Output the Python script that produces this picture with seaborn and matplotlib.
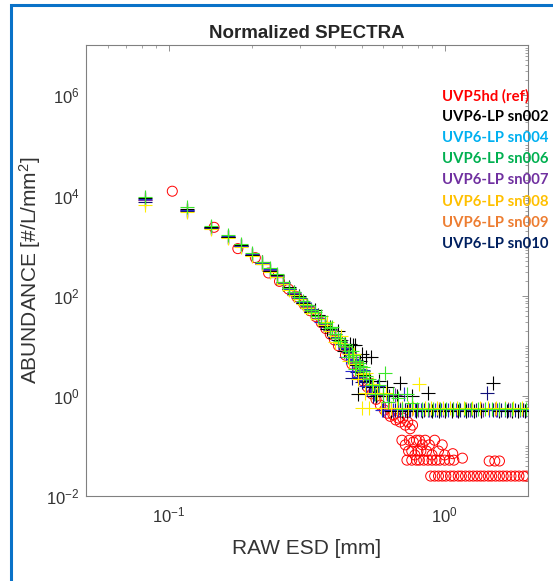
import matplotlib
matplotlib.use("Agg")
import matplotlib.pyplot as plt
import matplotlib.patches as patches
from matplotlib.ticker import LogLocator, NullFormatter
import numpy as np
import pandas as pd
import seaborn as sns

# UVP5hd reference spectrum (red circles)
uvp5_esd = [0.103, 0.146, 0.178, 0.206, 0.230, 0.252, 0.272, 0.291, 0.309, 0.326,
            0.342, 0.357, 0.371, 0.385, 0.399, 0.412, 0.437, 0.461, 0.483, 0.505,
            0.525, 0.545, 0.564, 0.585, 0.605,
            0.62, 0.635, 0.65, 0.665, 0.68, 0.69, 0.705, 0.72, 0.735, 0.75, 0.765,
            0.70, 0.72, 0.745, 0.77, 0.79, 0.81, 0.83, 0.85, 0.88, 0.92, 0.98,
            0.74, 0.76, 0.78, 0.80, 0.82, 0.86, 0.90, 0.95, 1.00, 1.07,
            0.73, 0.76, 0.79, 0.81, 0.84, 0.87, 0.90, 0.93, 0.96, 1.00, 1.04, 1.08,
            1.16, 1.45, 1.52, 1.58,
            0.89, 0.92, 0.95, 0.98, 1.01, 1.05, 1.08, 1.12, 1.15, 1.19, 1.23, 1.27,
            1.31, 1.35, 1.39, 1.44, 1.48, 1.53, 1.58, 1.63, 1.68, 1.74, 1.80, 1.86,
            1.93, 1.98]
uvp5_abund = [12200, 2320, 871, 575, 284, 193, 135, 95, 68, 50,
              38, 29, 22, 17, 13, 10, 6.5, 4.3, 2.9, 2.0,
              1.5, 1.1, 0.85, 0.65, 0.52,
              0.45, 0.39, 0.42, 0.33, 0.36, 0.30, 0.36, 0.26, 0.30, 0.22, 0.26,
              0.13, 0.105, 0.13, 0.12, 0.13, 0.13, 0.105, 0.13, 0.105, 0.13, 0.105,
              0.079, 0.079, 0.066, 0.079, 0.079, 0.079, 0.066, 0.079, 0.066, 0.07,
              0.052, 0.052, 0.052, 0.052, 0.052, 0.052, 0.052, 0.052, 0.052, 0.052, 0.052, 0.052,
              0.057, 0.05, 0.05, 0.05,
              0.025, 0.025, 0.025, 0.025, 0.025, 0.025, 0.025, 0.025, 0.025, 0.025, 0.025, 0.025,
              0.025, 0.025, 0.025, 0.025, 0.025, 0.025, 0.025, 0.025, 0.025, 0.025, 0.025, 0.025,
              0.025, 0.025]

# UVP6-LP size bins on the steep part of the spectra
uvp6_esd = [0.082, 0.116, 0.142, 0.164, 0.183, 0.201, 0.217, 0.232, 0.246, 0.259,
            0.272, 0.284, 0.296, 0.307, 0.318, 0.328, 0.348, 0.367, 0.385, 0.402,
            0.418, 0.434, 0.449, 0.464, 0.478, 0.492, 0.505, 0.519]

sn002_y = [9100, 5500, 2350, 1500, 1050, 640, 470, 310, 260, 170, 150, 105, 98, 70,
           66, 47, 41, 25, 24, 14, 13, 11, 8.0, 10.5, 4.2, 5.0, 2.6, 6.1]
sn004_y = [8500, 5200, 2300, 1550, 980, 680, 440, 340, 240, 185, 135, 118, 88, 76,
           58, 54, 35, 30, 20, 17, 11, 9.0, 7.9, 5.5, 5.1, 3.4, 3.3, 2.1]
sn006_y = [9400, 5900, 2500, 1650, 1100, 700, 480, 350, 270, 190, 145, 120, 96, 78,
           64, 52, 39, 29, 23, 17, 12.5, 10, 7.8, 6.4, 5.0, 3.9, 3.1, 2.5]
sn007_y = [8200, 5100, 2280, 1520, 1000, 655, 445, 325, 245, 178, 138, 112, 90, 72,
           61, 50, 36, 27, 21, 15, 12, 9.2, 7.2, 6.0, 4.6, 3.7, 2.8, 2.2]
sn008_y = [6600, 4600, 2150, 1420, 940, 610, 420, 300, 235, 168, 128, 104, 86, 68,
           57, 46, 34, 26, 20, 15.5, 11.5, 9.8, 7.0, 6.5, 4.4, 4.0, 2.7, 2.9]
sn009_y = [8000, 5000, 2250, 1480, 990, 650, 440, 320, 242, 175, 136, 110, 90, 71,
           60, 49, 36, 27, 21, 16, 12, 9.3, 7.4, 5.9, 4.7, 3.7, 2.9, 2.3]
sn010_y = [7600, 4900, 2200, 1460, 1000, 645, 430, 315, 240, 172, 134, 108, 89, 70,
           58, 47, 35, 26, 22, 15, 11.8, 8.8, 7.6, 5.4, 4.9, 3.2, 3.1, 2.0]

# in-between bins and large-size tails (few particle counts)
sn002_tail_x = [0.338, 0.376, 0.41, 0.43, 0.455, 0.472, 0.484, 0.50, 0.535, 0.542, 0.55,
                0.565, 0.58, 0.60, 0.62, 0.64, 0.67, 0.687, 0.70, 0.73, 0.76, 0.79,
                0.83, 0.87, 0.90, 0.95, 1.00, 1.06, 1.12, 1.20, 1.28, 1.36, 1.50, 1.58,
                1.68, 1.76, 1.85, 1.95]
sn002_tail_y = [52, 22, 20, 8.0, 11, 10.5, 1.1, 7.0, 2.0, 6.1, 1.5,
                1.0, 2.0, 1.0, 1.5, 0.50, 1.0, 1.8, 0.50, 0.50, 1.0, 0.50,
                0.50, 1.15, 0.50, 0.50, 0.50, 0.50, 0.50, 0.50, 0.50, 0.50, 1.8, 0.50,
                0.50, 0.50, 0.50, 0.50]
sn004_tail_x = [0.357, 0.40, 0.44, 0.46, 0.49, 0.52, 0.535, 0.555, 0.575, 0.595, 0.62,
                0.65, 0.68, 0.71, 0.74, 0.78, 0.82, 0.87, 0.92, 0.97, 1.03, 1.10, 1.18,
                1.26, 1.35, 1.45, 1.55, 1.65, 1.75, 1.88, 1.98]
sn004_tail_y = [30, 15, 6.0, 3.2, 2.4, 1.6, 1.6, 1.1, 1.6, 0.53, 1.1,
                0.53, 0.53, 1.1, 0.53, 0.53, 0.53, 0.53, 0.53, 0.53, 0.53, 0.53, 0.53,
                0.53, 0.53, 0.53, 0.53, 0.53, 0.53, 0.53, 0.53]
sn006_tail_x = [0.338, 0.357, 0.39, 0.41, 0.43, 0.445, 0.46, 0.475, 0.49, 0.505, 0.53,
                0.545, 0.56, 0.58, 0.60, 0.606, 0.625, 0.65, 0.675, 0.70, 0.73, 0.76,
                0.795, 0.83, 0.87, 0.91, 0.96, 1.01, 1.07, 1.13, 1.19, 1.25, 1.32, 1.40,
                1.48, 1.57, 1.66, 1.76, 1.87, 1.97]
sn006_tail_y = [48, 40, 24, 14, 11, 6.0, 8.0, 3.5, 4.5, 3.85, 2.2,
                1.65, 1.1, 1.65, 1.1, 2.9, 0.76, 1.1, 0.9, 0.55, 1.1, 0.72,
                0.55, 0.55, 0.55, 0.55, 0.55, 0.55, 0.55, 0.55, 0.55, 0.55, 0.55, 0.55,
                0.55, 0.55, 0.55, 0.55, 0.55, 0.55]
sn007_tail_x = [0.42, 0.46, 0.54, 0.57, 0.61, 0.66, 0.72, 0.80, 0.88, 0.99, 1.11, 1.24,
                1.38, 1.54, 1.72, 1.92]
sn007_tail_y = [13, 5.0, 1.56, 1.04, 0.52, 1.04, 0.52, 0.52, 0.52, 0.52, 0.52, 0.52,
                0.52, 0.52, 0.52, 0.52]
sn008_tail_x = [0.376, 0.40, 0.42, 0.45, 0.47, 0.485, 0.50, 0.515, 0.53, 0.55, 0.57,
                0.59, 0.615, 0.64, 0.67, 0.70, 0.735, 0.77, 0.81, 0.85, 0.89, 0.94,
                0.99, 1.05, 1.11, 1.18, 1.26, 1.34, 1.44, 1.54, 1.65, 1.77, 1.90]
sn008_tail_y = [30, 12, 16, 5.0, 6.8, 2.2, 0.58, 1.16, 0.58, 1.74, 1.16,
                0.58, 1.16, 0.58, 0.58, 0.58, 0.58, 0.58, 1.74, 0.58, 0.58, 0.58,
                0.58, 0.58, 0.58, 0.58, 0.58, 0.58, 0.58, 0.58, 0.58, 0.58, 0.58]
sn009_tail_x = [0.44, 0.54, 0.58, 0.63, 0.69, 0.76, 0.85, 0.95, 1.07, 1.2, 1.35, 1.52,
                1.7, 1.9]
sn009_tail_y = [8.0, 1.08, 1.08, 0.54, 0.54, 0.54, 0.54, 0.54, 0.54, 0.54, 0.54, 0.54,
                0.54, 0.54]
sn010_tail_x = [0.41, 0.44, 0.46, 0.48, 0.50, 0.53, 0.55, 0.57, 0.60, 0.63, 0.66, 0.69,
                0.72, 0.75, 0.79, 0.84, 0.89, 0.94, 1.00, 1.06, 1.14, 1.22, 1.30, 1.42,
                1.50, 1.60, 1.70, 1.80, 1.92]
sn010_tail_y = [13, 8.5, 2.3, 3.0, 1.9, 1.5, 1.0, 1.5, 0.51, 1.0, 0.51, 0.51,
                0.51, 0.51, 0.51, 0.51, 0.51, 0.51, 0.51, 0.51, 0.51, 0.51, 0.51, 1.13,
                0.51, 0.51, 0.51, 0.51, 0.51]

legend_labels = ["UVP5hd (ref)", "UVP6-LP sn002", "UVP6-LP sn004", "UVP6-LP sn006",
                 "UVP6-LP sn007", "UVP6-LP sn008", "UVP6-LP sn009", "UVP6-LP sn010"]
legend_colors = ["#FF0000", "#000000", "#00B0F0", "#00B050",
                 "#7030A0", "#FFC000", "#ED7D31", "#002060"]


def series_frame(name, y, tail_x, tail_y):
    return pd.DataFrame({"esd": list(uvp6_esd) + list(tail_x),
                         "abund": list(y) + list(tail_y),
                         "sensor": name})


uvp6 = pd.concat([
    series_frame("sn009", sn009_y, sn009_tail_x, sn009_tail_y),
    series_frame("sn007", sn007_y, sn007_tail_x, sn007_tail_y),
    series_frame("sn010", sn010_y, sn010_tail_x, sn010_tail_y),
    series_frame("sn004", sn004_y, sn004_tail_x, sn004_tail_y),
    series_frame("sn002", sn002_y, sn002_tail_x, sn002_tail_y),
    series_frame("sn008", sn008_y, sn008_tail_x, sn008_tail_y),
    series_frame("sn006", sn006_y, sn006_tail_x, sn006_tail_y),
], ignore_index=True)

marker_colors = {"sn009": "#ED7D31", "sn007": "#7a2fb0", "sn010": "#10107a",
                 "sn004": "#2a2ad0", "sn002": "#000000", "sn008": "#ffee00",
                 "sn006": "#3ce62a"}

sns.set_style("white")
plt.rcParams["font.family"] = ["Liberation Sans", "DejaVu Sans"]
plt.rcParams["mathtext.fontset"] = "custom"
plt.rcParams["mathtext.rm"] = "Liberation Sans"
plt.rcParams["mathtext.it"] = "Liberation Sans:italic"

fig = plt.figure(figsize=(5.53, 5.81), dpi=100)
ax = fig.add_axes([85.7 / 553, 85 / 581, 442 / 553, 450.7 / 581])

sns.scatterplot(x=uvp5_esd, y=uvp5_abund, marker="o", s=52, facecolor="none",
                edgecolor="#ff0000", linewidth=0.7, ax=ax, zorder=2)

for sensor, group in uvp6.groupby("sensor", sort=False):
    sns.scatterplot(data=group, x="esd", y="abund", marker="+", s=95,
                    color=marker_colors[sensor], linewidth=0.8, ax=ax, zorder=3)

ax.set_xscale("log")
ax.set_yscale("log")
ax.set_xlim(0.05, 2)
ax.set_ylim(1e-2, 1e7)
ax.set_xticks([0.1, 1])
ax.set_yticks([1e-2, 1e0, 1e2, 1e4, 1e6])
ax.xaxis.set_minor_locator(LogLocator(base=10, subs=np.arange(1, 10), numticks=50))
ax.yaxis.set_minor_locator(LogLocator(base=10, subs=np.arange(1, 10), numticks=50))
ax.xaxis.set_minor_formatter(NullFormatter())
ax.yaxis.set_minor_formatter(NullFormatter())

ax.tick_params(which="both", direction="in", top=True, right=True,
               color="#808080", labelcolor="#333333", labelsize=12)
ax.tick_params(which="major", length=4, width=0.6)
ax.tick_params(which="minor", length=2, width=0.5)
ax.tick_params(axis="y", pad=4.5)
ax.tick_params(axis="x", pad=7)
for spine in ax.spines.values():
    spine.set_color("#808080")
    spine.set_linewidth(0.8)

ax.set_xlabel("RAW ESD [mm]", fontsize=15, color="#333333")
ax.set_ylabel("ABUNDANCE [#/L/mm$^2$]", fontsize=15, color="#333333")
ax.xaxis.set_label_coords(0.5, -0.095)
ax.yaxis.set_label_coords(-0.097, 0.5)
ax.set_title("Normalized SPECTRA", fontsize=13.5, fontweight="bold", pad=5)

for i, (label, color) in enumerate(zip(legend_labels, legend_colors)):
    fig.text(442 / 553, 1 - (96 + i * 21.1) / 581, label, color=color,
             fontsize=10.7, fontweight="bold", family=["Lato", "DejaVu Sans"],
             ha="left", va="center")

frame = patches.Rectangle((11 / 553, -0.5), 2, 1.5 - 4.5 / 581, transform=fig.transFigure,
                          fill=False, edgecolor="#0A72C8", linewidth=2.2, clip_on=False)
fig.patches.append(frame)

fig.savefig("out.png", dpi=100)
